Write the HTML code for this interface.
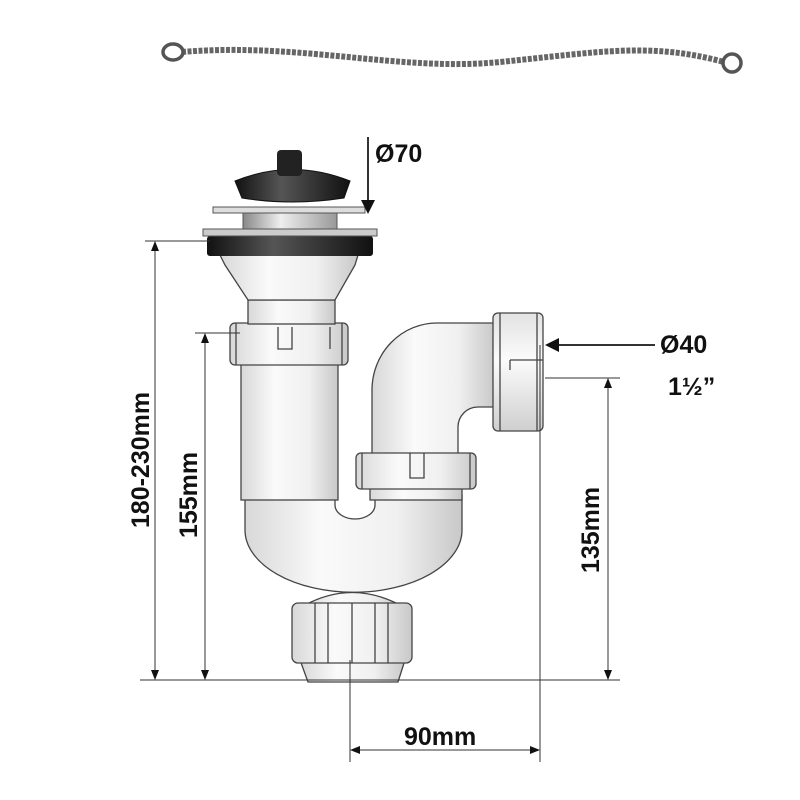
<!DOCTYPE html>
<html><head><style>body{margin:0;background:#fff}svg{display:block}text{font-family:"Liberation Sans",sans-serif;fill:#111}</style></head>
<body>
<svg width="800" height="800" viewBox="0 0 800 800" xmlns="http://www.w3.org/2000/svg">
<defs>
<linearGradient id="w" x1="0" x2="1"><stop offset="0" stop-color="#d8d8d8"/><stop offset=".35" stop-color="#fafafa"/><stop offset=".7" stop-color="#f0f0f0"/><stop offset="1" stop-color="#c8c8c8"/></linearGradient>
<linearGradient id="wv" x1="0" y1="0" x2="0" y2="1"><stop offset="0" stop-color="#e2e2e2"/><stop offset=".4" stop-color="#fbfbfb"/><stop offset="1" stop-color="#cfcfcf"/></linearGradient>
<linearGradient id="m" x1="0" x2="1"><stop offset="0" stop-color="#888"/><stop offset=".4" stop-color="#eee"/><stop offset="1" stop-color="#999"/></linearGradient>
<linearGradient id="k" x1="0" x2="1"><stop offset="0" stop-color="#111"/><stop offset=".4" stop-color="#555"/><stop offset="1" stop-color="#111"/></linearGradient>
</defs>
<!-- chain -->
<path d="M182,52 C300,42 400,72 500,62 S650,42 724,62" stroke="#666" stroke-width="6" fill="none" stroke-dasharray="4 1.5"/>
<ellipse cx="173" cy="52" rx="10" ry="8" fill="none" stroke="#555" stroke-width="3.5"/>
<ellipse cx="732" cy="63" rx="9" ry="9" fill="none" stroke="#555" stroke-width="3.5"/>
<g stroke="#444" fill="none" stroke-width="1.3">
<path d="M245,495 L245,530 A108,62 0 0 0 462,530 L462,495 L375,495 L375,505 A20,14 0 0 1 335,505 L335,495 Z" fill="url(#w)"/>
<rect x="241" y="355" width="97" height="145" fill="url(#w)"/>
<path d="M372,460 L372,390 A65,67 0 0 1 437,323 L495,323 L495,407 L478,407 A20,20 0 0 0 458,427 L458,460 Z" fill="url(#w)"/>
<rect x="370" y="470" width="92" height="30" fill="url(#w)"/>
<rect x="356" y="453" width="120" height="36" rx="5" fill="url(#w)"/>
<path d="M362,453v36M470,453v36M410,453v25h14v-25"/>
<rect x="493" y="313" width="50" height="118" rx="5" fill="url(#wv)"/>
<path d="M500,313v118M537,313v118M510,360h33M510,360v10"/>
<rect x="230" y="323" width="118" height="42" rx="5" fill="url(#w)"/>
<path d="M236,323v42M342,323v42M278,327v22h14v-22M330,327v22"/>
<rect x="248" y="300" width="87" height="24" fill="url(#w)"/>
<path d="M220,255 L358,255 L355,265 L335,300 L248,300 L225,265 Z" fill="url(#w)"/>
<path d="M305,605 Q352,580 400,605 Z" fill="url(#w)"/>
<path d="M300,660 L405,660 L398,682 L308,682 Z" fill="url(#w)"/>
<rect x="292" y="603" width="120" height="60" rx="6" fill="url(#w)"/>
<path d="M315,603v60M328,603v60M352,603v60M375,603v60M388,603v60"/>
</g>
<rect x="207" y="236" width="166" height="20" rx="3" fill="url(#k)"/>
<rect x="203" y="229" width="174" height="7" fill="#ccc" stroke="#555"/>
<rect x="243" y="213" width="94" height="16" fill="url(#m)" stroke="#555"/>
<rect x="213" y="207" width="152" height="6" fill="#ddd" stroke="#555"/>
<path d="M235,181 Q292,158 350,181 L344,198 Q292,206 242,198 Z" fill="url(#k)" stroke="#111"/>
<rect x="277" y="150" width="25" height="26" rx="4" fill="#222"/>
<g stroke="#333" stroke-width="1" fill="none">
<path d="M145,241H210M195,333H240M545,378H620M140,680H620M350,660V762M540,345V762"/>
<path d="M155,245V676M205,337V676M608,382V676M354,750H536"/>
<path d="M368,137V205" stroke-width="2"/><path d="M555,345H655" stroke-width="2"/>
</g>
<g fill="#111">
<path d="M155,241l-4,10h8zM155,680l-4,-10h8zM205,333l-4,10h8zM205,680l-4,-10h8zM608,378l-4,10h8zM608,680l-4,-10h8zM350,750l10,-4v8zM540,750l-10,-4v8z"/>
<path d="M368,214l-7,-14h14z"/><path d="M545,345l14,-7v14z"/>
</g>
<text x="375" y="162" font-size="25" font-weight="bold">Ø70</text>
<text x="660" y="353" font-size="25" font-weight="bold">Ø40</text>
<text x="668" y="395" font-size="25" font-weight="bold">1½”</text>
<text x="404" y="745" font-size="25" font-weight="bold">90mm</text>
<text transform="translate(149,460) rotate(-90)" text-anchor="middle" font-size="25" font-weight="bold">180-230mm</text>
<text transform="translate(197,495) rotate(-90)" text-anchor="middle" font-size="25" font-weight="bold">155mm</text>
<text transform="translate(599,530) rotate(-90)" text-anchor="middle" font-size="25" font-weight="bold">135mm</text>
</svg>
</body></html>
